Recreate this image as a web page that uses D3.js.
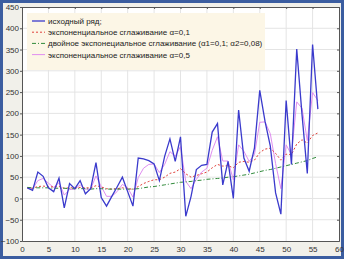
<!DOCTYPE html>
<html>
<head>
    <script src="https://d3js.org/d3.v7.min.js"></script>
    <style>
        body { margin: 0; }
        svg { display: block; font-family: "Liberation Sans", Arial, sans-serif; }
        .tick text { font-size: 8px; fill: #333; }
        .legend text { font-size: 8px; fill: #222; }
    </style>
</head>
<body>
<div id="chart"></div>
<script>
    // номера наблюдений
    const periods = d3.range(1, 57);

    // исходный ряд
    const raw = [25, 19, 62, 52, 25, 16, 48, -22, 35, 23, 42, 11, 23, 84, 2, -18, 5, 27, 50, 16,
        -18, 95, 93, 89, 81, 42, 99, 140, 87, 145, -42, 5, 68, 78, 80, 156, 176, 32, 87, 0,
        208, 95, 64, 119, 254, 181, 123, 13, -37, 230, 80, 351, 197, 59, 362, 210];

    // экспоненциальное сглаживание a=0,1
    const ses01 = [25, 24, 28, 29, 28, 27, 28, 24, 25, 25, 26, 25, 25, 30, 27, 23, 22, 23, 25, 24,
        21, 28, 35, 40, 44, 44, 50, 59, 62, 70, 58, 50, 54, 58, 62, 72, 80, 76, 77, 72,
        85, 87, 85, 90, 108, 116, 118, 106, 90, 104, 103, 128, 138, 130, 148, 154];

    // двойное экспоненциальное сглаживание
    const des = [26, 25, 25, 25, 25, 24, 24, 24, 23, 23, 23, 23, 22, 23, 23, 22, 22, 22, 22, 22,
        22, 23, 25, 27, 28, 30, 32, 34, 36, 38, 39, 40, 42, 43, 45, 46, 47, 48, 50, 51,
        53, 55, 57, 60, 63, 66, 68, 71, 74, 77, 80, 83, 86, 89, 94, 98];

    // экспоненциальное сглаживание a=0,5
    const ses05 = [25, 22, 42, 47, 36, 26, 37, 8, 21, 22, 32, 22, 22, 53, 28, 5, 5, 16, 33, 25,
        3, 49, 71, 80, 81, 61, 80, 110, 99, 122, 40, 23, 45, 62, 71, 113, 145, 88, 88, 44,
        126, 111, 87, 103, 179, 180, 152, 82, 23, 126, 103, 227, 212, 136, 249, 230];

    const xTicks = d3.range(0, 61, 5);
    const yTicks = d3.range(-100, 451, 50);

    const legendLabels = [
        "исходный ряд;",
        "экспоненциальное сглаживание α=0,1",
        "двойное экспонециальное сглаживание (α1=0,1; α2=0,08)",
        " экспоненциальное сглаживание α=0,5"
    ];

    const W = 344, H = 259;
    const margin = { top: 7, right: 5, bottom: 18, left: 22 };

    const svg = d3.select("#chart").append("svg")
        .attr("width", W)
        .attr("height", H);

    // фон и рамка окна
    svg.append("rect")
        .attr("x", 1.5).attr("y", 1.5)
        .attr("width", W - 3).attr("height", H - 3)
        .attr("fill", "#f1f0ea")
        .attr("stroke", "#3b5da0")
        .attr("stroke-width", 3);

    const x = d3.scaleLinear().domain([0, 60]).range([margin.left, W - margin.right]);
    const y = d3.scaleLinear().domain([-100, 450]).range([H - margin.bottom, margin.top]);

    // область графика
    svg.append("rect")
        .attr("x", x(0)).attr("y", y(450))
        .attr("width", x(60) - x(0)).attr("height", y(-100) - y(450))
        .attr("fill", "#fff");

    // сетка
    svg.append("g").selectAll("line")
        .data(xTicks.slice(1, -1)).join("line")
        .attr("x1", d => x(d)).attr("x2", d => x(d))
        .attr("y1", y(450)).attr("y2", y(-100))
        .attr("stroke", "#e4e4e4");
    svg.append("g").selectAll("line")
        .data(yTicks.slice(1, -1)).join("line")
        .attr("y1", d => y(d)).attr("y2", d => y(d))
        .attr("x1", x(0)).attr("x2", x(60))
        .attr("stroke", "#e4e4e4");

    // легенда
    const legend = svg.append("g").attr("class", "legend");
    legend.append("rect")
        .attr("x", 27).attr("y", 13)
        .attr("width", 238).attr("height", 57)
        .attr("fill", "#fcf6e6");

    const series = [
        { values: raw, color: "#3a3acc", width: 1.3, dash: null },
        { values: ses01, color: "#e0403a", width: 1, dash: "2,2" },
        { values: des, color: "#2f8a3a", width: 1, dash: "4,2,1,2" },
        { values: ses05, color: "#e08ef0", width: 1, dash: null }
    ];

    const line = d3.line()
        .x((d, i) => x(periods[i]))
        .y(d => y(d));

    // порядок отрисовки: сглаживания снизу, исходный ряд сверху
    [3, 1, 2, 0].forEach(k => {
        const s = series[k];
        svg.append("path")
            .datum(s.values)
            .attr("fill", "none")
            .attr("stroke", s.color)
            .attr("stroke-width", s.width)
            .attr("stroke-dasharray", s.dash)
            .attr("d", line);
    });

    legendLabels.forEach((t, i) => {
        const ly = 21 + i * 11.2;
        const s = series[i];
        legend.append("line")
            .attr("x1", 32).attr("x2", 45)
            .attr("y1", ly).attr("y2", ly)
            .attr("stroke", s.color)
            .attr("stroke-width", s.width)
            .attr("stroke-dasharray", s.dash);
        legend.append("text")
            .attr("x", 48).attr("y", ly + 3)
            .text(t);
    });

    // оси
    const xAxis = svg.append("g")
        .attr("transform", `translate(0,${y(-100)})`)
        .call(d3.axisBottom(x).tickValues(xTicks).tickSize(0).tickPadding(5));
    const yAxis = svg.append("g")
        .attr("transform", `translate(${x(0)},0)`)
        .call(d3.axisLeft(y).tickValues(yTicks).tickSize(2).tickPadding(1));
    svg.append("g")
        .attr("transform", `translate(${x(60)},0)`)
        .call(d3.axisLeft(y).tickValues(yTicks).tickSize(2).tickFormat(""));
    svg.append("g")
        .attr("transform", `translate(0,${y(450)})`)
        .call(d3.axisBottom(x).tickValues(xTicks).tickSize(2).tickFormat(""));
    svg.selectAll(".domain").attr("stroke", "#555");
    svg.selectAll(".tick line").attr("stroke", "#555");
</script>
</body>
</html>
